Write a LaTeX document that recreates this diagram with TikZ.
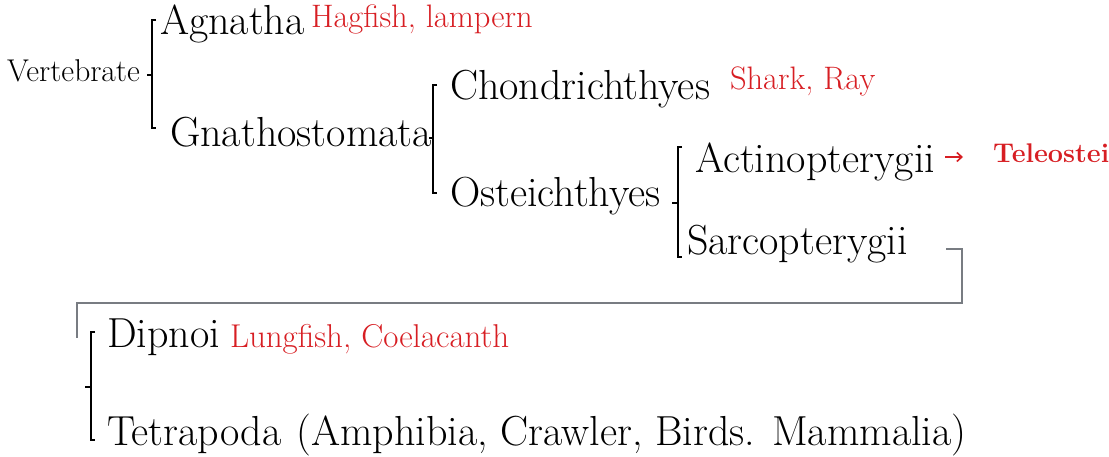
\documentclass[tikz,border=0pt]{standalone}
\usepackage{fontspec}
\usetikzlibrary{arrows.meta}
\definecolor{redlab}{RGB}{215,30,35}
\definecolor{linkgray}{RGB}{120,124,130}
\tikzset{
  lab/.style={anchor=base west, inner sep=0pt, outer sep=0pt, font=\fontsize{42}{46}\selectfont},
  small/.style={anchor=base west, inner sep=0pt, outer sep=0pt, font=\fontsize{31.5}{34}\selectfont},
  note/.style={anchor=base west, inner sep=0pt, outer sep=0pt, text=redlab, font=\fontsize{32.5}{35}\selectfont},
  brk/.style={draw=black, line width=1.8pt},
  link/.style={draw=linkgray, line width=1.4pt},
}
\begin{document}
\begin{tikzpicture}[x=1pt,y=-1pt]
\useasboundingbox (0,0) rectangle (1109,457);
% labels
\node[small] (vert) at (7,82) {Vertebrate};
\node[lab] (agn) at (160,35) {Agnatha};
\node[note] (hag) at (311,28) {Hagfish, lampern};
\node[lab] (gna) at (170,147) {Gnathostomata};
\node[lab] (cho) at (450,100) {Chondrichthyes};
\node[note] (shark) at (730,90) {Shark, Ray};
\node[lab] (ost) at (450,207) {Osteichthyes};
\node[lab] (act) at (695,173) {Actinopterygii};
\node[anchor=base west, inner sep=0pt, text=redlab, font=\fontsize{27}{30}\selectfont\bfseries] (tel) at (993,163) {Teleostei};
\node[lab] (sar) at (687,255) {Sarcopterygii};
\node[lab] (dip) at (107,347) {Dipnoi};
\node[note, font=\fontsize{33}{36}\selectfont] (lung) at (230,347) {Lungfish, Coelacanth};
\node[lab] (tet) at (107,445) {Tetrapoda\hspace{15pt}(Amphibia, Crawler, Birds. Mammalia)};
% bracket coordinates
\coordinate (b1t) at (152,20); \coordinate (b1b) at (152,128); \coordinate (b1m) at (152,75);
\coordinate (b2t) at (433,85); \coordinate (b2b) at (433,193); \coordinate (b2m) at (433,138);
\coordinate (b3t) at (678,147); \coordinate (b3b) at (678,257); \coordinate (b3m) at (678,203);
\coordinate (b4t) at (91,332); \coordinate (b4b) at (91,440); \coordinate (b4m) at (91,387);
% brackets
\draw[brk] ([xshift=4pt]b1t) -- (b1t) -- (b1b) -- ([xshift=4pt]b1b);
\draw[brk] ([xshift=-5pt]b1m) -- (b1m);
\draw[brk] ([xshift=4pt]b2t) -- (b2t) -- (b2b) -- ([xshift=4pt]b2b);
\draw[brk] ([xshift=-4pt]b2m) -- (b2m);
\draw[brk] ([xshift=4pt]b3t) -- (b3t) -- (b3b) -- ([xshift=4pt]b3b);
\draw[brk] ([xshift=-6pt]b3m) -- (b3m);
\draw[brk] ([xshift=4pt]b4t) -- (b4t) -- (b4b) -- ([xshift=4pt]b4b);
\draw[brk] ([xshift=-6pt]b4m) -- (b4m);
% arrow to Teleostei
\coordinate (arS) at (945,157);
\coordinate (arE) at (963,157);
\draw[redlab, line width=1.6pt, -{Straight Barb[length=5pt,width=9pt]}] (arS) -- (arE);
% link from Sarcopterygii to Dipnoi group
\coordinate (l0) at (946,249);
\coordinate (l1) at (962,249);
\coordinate (l2) at (962,303);
\coordinate (l3) at (77,303);
\coordinate (l4) at (77,338);
\draw[link] (l0) -- (l1) -- (l2) -- (l3) -- (l4);
\end{tikzpicture}
\end{document}
